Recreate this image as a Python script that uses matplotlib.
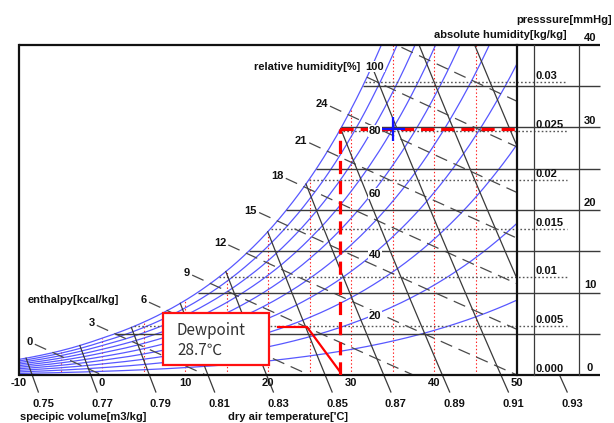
import numpy as np
import matplotlib
matplotlib.use("Agg")
import matplotlib.pyplot as plt
from matplotlib.transforms import blended_transform_factory, offset_copy
from matplotlib.patches import Rectangle

plt.rcParams['lines.scale_dashes'] = False

# ---------------- data ----------------
SAT_T = [-10, -7.5, -5, -2.5, 0, 2.5, 5, 7.5, 10, 12.5, 15, 17.5, 20, 22.5,
         25, 27.5, 30, 32.5, 35, 37.5, 40, 42.5, 45, 47.5, 50]
SAT_P_KPA = [0.260, 0.324, 0.402, 0.497, 0.611, 0.731, 0.873, 1.038, 1.228,
             1.450, 1.706, 2.002, 2.339, 2.727, 3.170, 3.672, 4.247, 4.896,
             5.629, 6.452, 7.385, 8.430, 9.595, 10.90, 12.35]
P_ATM_KPA = 101.325

RH_LEVELS = [10, 20, 30, 40, 50, 60, 70, 80, 90, 100]
RH_LABELS = [20, 40, 60, 80, 100]
ENTHALPY_LEVELS = [0, 3, 6, 9, 12, 15, 18, 21, 24, 27, 30]
ENTHALPY_LABELS = [0, 3, 6, 9, 12, 15, 18, 21, 24]
VOLUME_LEVELS = [0.75, 0.77, 0.79, 0.81, 0.83, 0.85, 0.87, 0.89, 0.91, 0.93, 0.95]
VOLUME_LABELS = [0.75, 0.77, 0.79, 0.81, 0.83, 0.85, 0.87, 0.89, 0.91, 0.93]
TEMP_TICKS = [-10, 0, 10, 20, 30, 40, 50]
TEMP_GRID = [-10, -5, 0, 5, 10, 15, 20, 25, 30, 35, 40, 45]
ABS_HUM_TICKS = [0.000, 0.005, 0.010, 0.015, 0.020, 0.025, 0.030]
ABS_HUM_TICK_LABELS = ['0.000', '0.005', '0.01', '0.015', '0.02', '0.025', '0.03']
PRESSURE_LINES = [0, 5, 10, 15, 20, 25, 30, 35, 40]
PRESSURE_TICKS = [0, 10, 20, 30, 40]
DEWPOINT_T = 28.7
STATE_T = 35.0

T_MIN, T_MAX = -10, 50
W_MAX = 0.0338
P_MAX = 40

# psychrometric constants (kcal/kg based)
CP_AIR, CP_VAP, LATENT = 0.24, 0.441, 620.0
R_OVER_P = 0.287055 / P_ATM_KPA

# ---------------- layout (pixels) ----------------
FW, FH = 614, 423
AX_L, AX_R, AX_T, AX_B = 19, 517, 45, 375
PX_PER_T = (AX_R - AX_L) / (T_MAX - T_MIN)


def fx(px):
    return px / FW


def fy(py):
    return 1 - py / FH


def T_px(px):
    return T_MIN + (px - AX_L) / PX_PER_T


def W_px(py):
    return (AX_B - py) * W_MAX / (AX_B - AX_T)


lnP = np.log(SAT_P_KPA)


def p_sat(T):
    return np.exp(np.interp(T, SAT_T, lnP))


def w_rh(T, rh):
    pv = rh / 100.0 * p_sat(T)
    return 0.622 * pv / (P_ATM_KPA - pv)


def t_sat_of_w(w):
    pv = w * P_ATM_KPA / (0.622 + w)
    return np.interp(np.log(pv), lnP, SAT_T)


def w_h(T, h):
    return (h - CP_AIR * T) / (LATENT + CP_VAP * T)


def w_v(T, v):
    return (v / (R_OVER_P * (T + 273.15)) - 1) / 1.6078


def T_v(w, v):
    return v / R_OVER_P / (1 + 1.6078 * w) - 273.15


fig = plt.figure(figsize=(FW / 100, FH / 100), dpi=100)
ax = fig.add_axes([fx(AX_L), fy(AX_B), (AX_R - AX_L) / FW, (AX_B - AX_T) / FH])
ax.set_xlim(T_MIN, T_MAX)
ax.set_ylim(0, W_MAX)
ax.axis('off')

BOLD = dict(family='Liberation Sans', fontweight='bold', fontsize=8, color='#111111')
BLUE = '#5858ff'
GRAY = '#3a3a3a'
W_BELOW = W_px(392)

Tg = np.linspace(T_MIN, T_MAX, 2401)
wsg = w_rh(Tg, 100)

# red dotted dry-bulb lines
for T in TEMP_GRID:
    ax.plot([T, T], [0, min(float(w_rh(T, 100)), W_MAX)], color='#ff2020', lw=0.8,
            dashes=(1.0, 1.6), zorder=1.5)

# relative humidity curves
for rh in RH_LEVELS:
    ax.plot(Tg, w_rh(Tg, rh), color=BLUE, lw=0.9, zorder=2)

# absolute humidity dotted lines
for w in ABS_HUM_TICKS[1:]:
    t0 = float(t_sat_of_w(w))
    ax.plot([t0, T_px(567)], [w, w], color='#555555', lw=1.0, dashes=(1.2, 1.6),
            clip_on=False, zorder=2.2)

# pressure solid lines
for p in PRESSURE_LINES:
    w = p / P_MAX * W_MAX
    if p == 0 or p == P_MAX:
        t0 = T_MIN
        lw = 1.6
        col = '#111111'
    else:
        t0 = float(t_sat_of_w(w))
        lw = 1.0
        col = GRAY
    ax.plot([t0, T_px(600)], [w, w], color=col, lw=lw, clip_on=False, zorder=2.6,
            solid_capstyle='butt')

# frame verticals
ax.plot([T_MIN, T_MIN], [0, W_MAX], color='#111111', lw=1.6, clip_on=False, zorder=3)
ax.plot([T_MAX, T_MAX], [0, W_MAX], color='#111111', lw=1.6, clip_on=False, zorder=3)
for xp in (534, 579):
    ax.plot([T_px(xp), T_px(xp)], [0, W_MAX], color=GRAY, lw=0.9, clip_on=False, zorder=3)

# enthalpy dashed lines
for h in ENTHALPY_LEVELS:
    d = w_h(Tg, h) - wsg
    Ts = float(np.interp(0, -d, Tg))
    labeled = h in ENTHALPY_LABELS
    t0 = Ts - 2.2 if labeled else Ts
    t1 = min(h / CP_AIR, T_MAX)
    tt = np.linspace(t0, t1, 200)
    ax.plot(tt, w_h(tt, h), color='#4a4a4a', lw=0.9, dashes=(9.0, 5.0), zorder=2.5)
    if labeled:
        ax.annotate(str(h), (t0, float(w_h(t0, h))), xytext=(-2, 2),
                    textcoords='offset pixels', ha='right', va='center', **BOLD)

# specific volume lines
for v in VOLUME_LEVELS:
    d = w_v(Tg, v) - wsg
    Ts = float(np.interp(0, -d, Tg))
    wtop = min(float(w_rh(Ts, 100)), W_MAX)
    ww = np.linspace(wtop, 0, 200)
    ax.plot(T_v(ww, v), ww, color=GRAY, lw=0.9, zorder=2.5)
    if v in VOLUME_LABELS:
        wb = np.linspace(0, W_BELOW, 10)
        ax.plot(T_v(wb, v), wb, color=GRAY, lw=0.9, zorder=2.5, clip_on=False)
        tr = offset_copy(blended_transform_factory(ax.transData, fig.transFigure),
                         fig=fig, x=5, y=0, units='dots')
        ax.text(float(T_v(W_BELOW, v)), fy(404), f"{v:.2f}", transform=tr,
                ha='center', va='center', **BOLD)

# RH labels
for rh in RH_LABELS:
    ax.text(T_px(375), float(w_rh(32.5, rh)), str(rh), ha='center', va='center',
            zorder=6, bbox=dict(facecolor='white', edgecolor='none', pad=0.6), **BOLD)
ax.text(T_px(360), float(w_rh(32.5, 100)), 'relative humidity[%]', ha='right',
        va='center', zorder=6, **BOLD)

# dewpoint / state point
w_dew = float(w_rh(DEWPOINT_T, 100))
ax.plot([DEWPOINT_T, DEWPOINT_T], [0, w_dew], color='#ff0000', lw=2.3,
        dashes=(9.5, 5.0), zorder=4, solid_capstyle='butt')
ax.plot([DEWPOINT_T, T_MAX], [w_dew, w_dew], color='#ff0000', lw=2.3,
        dashes=(9.5, 5.0), zorder=4)
ax.plot([STATE_T], [w_dew], marker='+', color='#1010ff', markersize=17,
        markeredgewidth=1.6, zorder=5)

# x tick labels
bt = blended_transform_factory(ax.transData, fig.transFigure)
for t in TEMP_TICKS:
    ax.text(t, fy(383), str(t), transform=bt, ha='center', va='center', **BOLD)

# right side labels
for w, lab in zip(ABS_HUM_TICKS, ABS_HUM_TICK_LABELS):
    ax.annotate(lab, (T_px(536), w), xytext=(0, 1), textcoords='offset pixels',
                ha='left', va='bottom', annotation_clip=False, **BOLD)
for p in PRESSURE_TICKS:
    ax.annotate(str(p), (T_px(590), p / P_MAX * W_MAX), xytext=(0, 2),
                textcoords='offset pixels', ha='center', va='bottom',
                annotation_clip=False, **BOLD)

fig.text(fx(564), fy(20), 'presssure[mmHg]', ha='center', va='center', **BOLD)
fig.text(fx(500), fy(35), 'absolute humidity[kg/kg]', ha='center', va='center', **BOLD)
fig.text(fx(28), fy(300), 'enthalpy[kcal/kg]', ha='left', va='center', **BOLD)
fig.text(fx(20), fy(417), 'specipic volume[m3/kg]', ha='left', va='center', **BOLD)
fig.text(fx(288), fy(417), "dry air temperature['C]", ha='center', va='center', **BOLD)

# dewpoint callout
box = Rectangle((fx(163), fy(365)), fx(269) - fx(163), fy(313) - fy(365),
                transform=fig.transFigure, facecolor='white', edgecolor='#ff1010',
                lw=1.6, zorder=10)
fig.patches.append(box)
CJK = dict(family=['Noto Sans CJK KR', 'DejaVu Sans'], fontsize=11, color='#333333',
           zorder=11)
fig.text(fx(177), fy(330), 'Dewpoint', ha='left', va='center', **CJK)
fig.text(fx(177), fy(350), f"{DEWPOINT_T}\u2103", ha='left', va='center', **CJK)
ax.plot([T_px(278), T_px(307), DEWPOINT_T], [W_px(327), W_px(327), W_px(372)],
        color='#ff0000', lw=1.6, zorder=4.5, clip_on=False)

fig.savefig('out.png', dpi=100, facecolor='white')
